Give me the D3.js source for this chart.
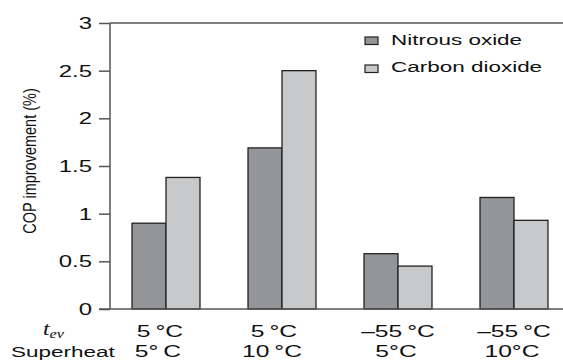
<!DOCTYPE html>
<html>
<head>
<meta charset="utf-8">
<script src="https://cdn.jsdelivr.net/npm/d3@7"></script>
<style>
  body { margin: 0; background: #fff; }
  text { font-family: "Liberation Sans", Arial, sans-serif; fill: #111; }
</style>
</head>
<body>
<div id="chart"></div>
<script>
// chart values
var tevLabels = ["5\u2009°C", "5\u2009°C", "\u201355\u2009°C", "\u201355\u2009°C"]
var superheatLabels = ["5°\u2009C", "10\u2009°C", "5°C", "10°C"]
var nitrous = [0.9, 1.69, 0.58, 1.17]
var carbon = [1.38, 2.5, 0.45, 0.93]
var seriesNames = ["Nitrous oxide", "Carbon dioxide"]
var yTicks = [0, 0.5, 1, 1.5, 2, 2.5, 3]

var W = 563, H = 361
var sx = 1.45   // the picture is stretched sideways, so is the text

var svg = d3.select("#chart").append("svg")
  .attr("width", W)
  .attr("height", H)

var x = d3.scaleBand()
  .domain(d3.range(tevLabels.length))
  .range([108, 572])
  .paddingInner(0.414)
  .paddingOuter(0.207)

var x1 = d3.scaleBand()
  .domain([0, 1])
  .range([0, x.bandwidth()])

var y = d3.scaleLinear()
  .domain([0, 3])
  .range([309, 23])

var colors = ["#949599", "#c8c9cb"]

// stretched text helper
function label(g, tx, ty, str, size, anchor){
  return g.append("text")
    .attr("transform", "translate(" + tx + "," + ty + ") scale(" + sx + ",1)")
    .attr("text-anchor", anchor || "start")
    .style("font-size", size + "px")
    .text(str)
}

// frame top line
svg.append("line")
  .attr("x1", 110).attr("x2", W)
  .attr("y1", y(3)).attr("y2", y(3))
  .attr("stroke", "#555").attr("stroke-width", 1.5)

// y axis
var yAxis = svg.append("g")
  .attr("transform", "translate(110,0)")
  .call(d3.axisLeft(y).tickValues(yTicks).tickSize(11).tickFormat(""))
yAxis.selectAll("path, line").attr("stroke", "#555").attr("stroke-width", 1.5)
yAxis.select(".domain").attr("d", "M0," + y(0) + "V" + y(3))

yTicks.forEach(function(t){
  label(svg, 92, y(t) + 6, d3.format("")(t), 16.5, "end")
})

// bars
var groups = svg.selectAll(".grp")
  .data(tevLabels.map(function(d, i){ return [nitrous[i], carbon[i]] }))
  .enter().append("g")
  .attr("transform", function(d, i){ return "translate(" + x(i) + ",0)" })

groups.selectAll("rect")
  .data(function(d){ return d })
  .enter().append("rect")
  .attr("x", function(d, j){ return x1(j) })
  .attr("width", x1.bandwidth())
  .attr("y", function(d){ return y(d) })
  .attr("height", function(d){ return y(0) - y(d) })
  .attr("fill", function(d, j){ return colors[j] })
  .attr("stroke", "#222")
  .attr("stroke-width", 1.3)

// x axis line
svg.append("line")
  .attr("x1", 99).attr("x2", W)
  .attr("y1", y(0)).attr("y2", y(0))
  .attr("stroke", "#555").attr("stroke-width", 1.5)

// category rows
var rowShift = [-6, -8, 0, 0]
tevLabels.forEach(function(t, i){
  label(svg, x(i) + x.bandwidth() / 2 + rowShift[i], 337, t, 17, "middle")
})
superheatLabels.forEach(function(t, i){
  label(svg, x(i) + x.bandwidth() / 2 + rowShift[i] - 2, 357, t, 17, "middle")
})

var tev = svg.append("text")
  .attr("transform", "translate(43,335) scale(1.25,1)")
  .style("font-family", "'Liberation Serif', 'Times New Roman', serif")
  .style("font-style", "italic")
  .style("font-size", "19px")
tev.append("tspan").text("t")
tev.append("tspan").attr("dy", 3).style("font-size", "13px").text("ev")

label(svg, 11, 357, "Superheat", 15.5)

// y axis title
svg.append("text")
  .attr("transform", "translate(36,161) rotate(-90) scale(1,1.3)")
  .attr("text-anchor", "middle")
  .style("font-size", "14.5px")
  .text("COP improvement (%)")

// legend
seriesNames.forEach(function(s, i){
  svg.append("rect")
    .attr("x", 365).attr("y", 37 + i * 28)
    .attr("width", 13).attr("height", 7.5)
    .attr("fill", colors[i])
    .attr("stroke", "#222").attr("stroke-width", 1.2)
  label(svg, 391, 45 + i * 27, s, 15.5)
})
</script>
</body>
</html>
